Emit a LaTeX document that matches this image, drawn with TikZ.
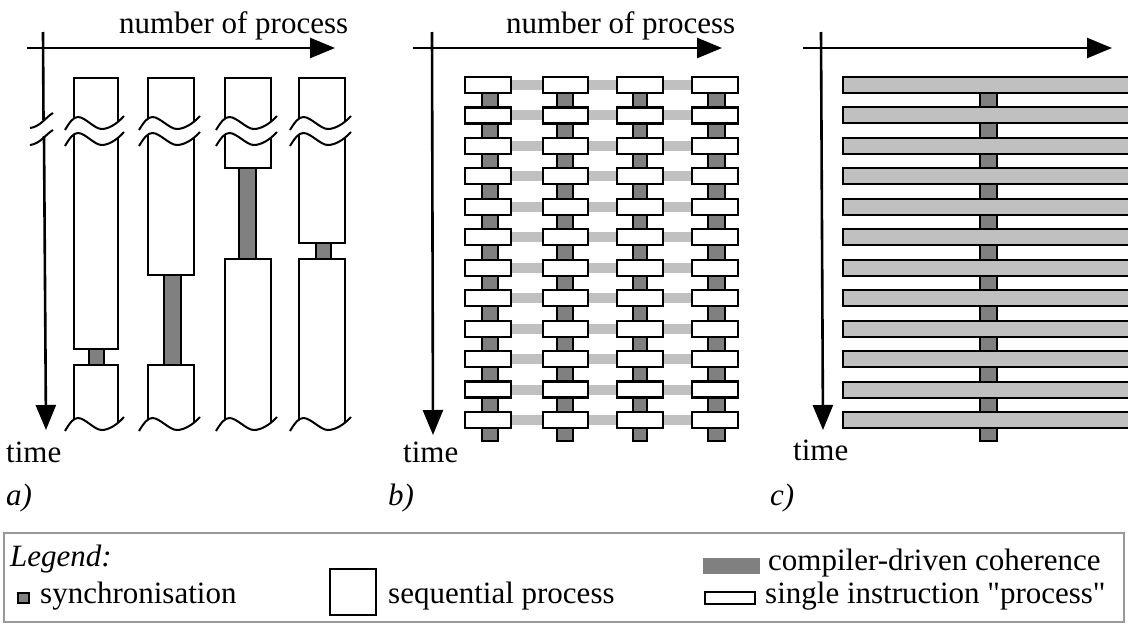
\documentclass[tikz,border=0pt]{standalone}
\usepackage{fontspec}
\setmainfont{Liberation Serif}
\newfontfamily\plainqfont{Liberation Serif}[Ligatures=TeXOff]
\usetikzlibrary{arrows.meta}
\definecolor{syncgray}{HTML}{808080}
\definecolor{lightgrey}{HTML}{C0C0C0}
\definecolor{framegrey}{HTML}{999999}
% wave from x=#1 to x=#2 around y=#3 (y grows downwards)
\newcommand\wavefw[3]{(#1,#3+7) .. controls ({(#1)+0.08*((#2)-(#1))},#3-1) and ({(#1)+0.14*((#2)-(#1))},#3-6) .. ({(#1)+0.22*((#2)-(#1))},#3-6) .. controls ({(#1)+0.34*((#2)-(#1))},#3-6) and ({(#1)+0.50*((#2)-(#1))},#3+6) .. ({(#1)+0.62*((#2)-(#1))},#3+6) .. controls ({(#1)+0.74*((#2)-(#1))},#3+6) and ({(#1)+0.88*((#2)-(#1))},#3+1) .. (#2,#3-7)}
\newcommand\waverev[3]{(#2,#3-7) .. controls ({(#1)+0.88*((#2)-(#1))},#3+1) and ({(#1)+0.74*((#2)-(#1))},#3+6) .. ({(#1)+0.62*((#2)-(#1))},#3+6) .. controls ({(#1)+0.50*((#2)-(#1))},#3+6) and ({(#1)+0.34*((#2)-(#1))},#3-6) .. ({(#1)+0.22*((#2)-(#1))},#3-6) .. controls ({(#1)+0.14*((#2)-(#1))},#3-6) and ({(#1)+0.08*((#2)-(#1))},#3-1) .. (#1,#3+7)}
\tikzset{
  axisarrow/.style={line width=2.6pt, -{Triangle[length=25pt,width=20pt]}},
  axisline/.style={line width=2.6pt},
  seqbox/.style={draw, fill=white, line width=2pt},
  syncbox/.style={draw, fill=syncgray, line width=2pt},
  sibox/.style={draw, fill=white, line width=2.2pt},
  cohlink/.style={fill=lightgrey},
  cbar/.style={draw, fill=lightgrey, line width=2pt},
  wavestyle/.style={line width=2pt},
  lbl/.style={font=\fontsize{31}{37}\selectfont, inner sep=0pt, anchor=base west},
  ilbl/.style={lbl, font=\fontsize{31}{37}\selectfont\itshape},
}
\begin{document}
\begin{tikzpicture}[x=1pt,y=-1pt]
\useasboundingbox (0,0) rectangle (1128,624);
\fill[white] (0,0) rectangle (1128,624);

% ================= panel a =================
\coordinate (ah0) at (27,48);  \coordinate (ah1) at (335,48);
\coordinate (av0) at (43,32);  \coordinate (av1) at (43.5,120);
\coordinate (av2) at (44,136); \coordinate (av3) at (46,430);
\draw[axisarrow] (ah0) -- (ah1);
\draw[axisline] (av0) -- (av1);
\draw[axisarrow] (av2) -- (av3);
\draw[wavestyle] (30,128) .. controls (40,127) and (46,117) .. (53,113);
\draw[wavestyle] (30,145) .. controls (40,144) and (46,134) .. (53,130);

\foreach \L/\R/\Ab/\sL/\sR/\Bt in {74/118/349/89/104/365, 148/194/275/164/181/365, 225/271/168/239/256/259, 299/345/243/316/331/259}{
  \draw[syncbox] (\sL,\Ab) rectangle (\sR,\Bt);
  \draw[seqbox] (\L,78) rectangle (\R,\Ab);
  \draw[seqbox] (\L,450) -- (\L,\Bt) -- (\R,\Bt) -- (\R,450);
  \fill[white] \wavefw{\L-9}{\R+6}{123} -- \waverev{\L-9}{\R+6}{139} -- cycle;
  \draw[wavestyle] \wavefw{\L-9}{\R+6}{123};
  \draw[wavestyle] \wavefw{\L-9}{\R+6}{139};
  \fill[white] \wavefw{\L-9}{\R+6}{424} -- (\R+6,455) -- (\L-9,455) -- cycle;
  \draw[wavestyle] \wavefw{\L-9}{\R+6}{424};
}
\node[lbl] (npa) at (119,33) {number of process};
\node[lbl] (ta) at (6,462) {time};
\node[ilbl] (la) at (6,505) {a)};

% ================= panel b =================
\coordinate (bh0) at (413,48); \coordinate (bh1) at (722,48);
\coordinate (bv0) at (432,32); \coordinate (bv1) at (433,435);
\draw[axisarrow] (bh0) -- (bh1);
\draw[axisarrow] (bv0) -- (bv1);
\foreach \i in {0,...,11}{
  \pgfmathsetmacro\yy{77+30.45*\i}
  \foreach \a/\b in {511/543, 588/617, 663/692}{
    \fill[cohlink] (\a,\yy+3) rectangle (\b,\yy+13);
  }
}
\foreach \sL/\sR in {482/498, 557/573, 633/647, 708/725}{
  \draw[syncbox] (\sL,85) rectangle (\sR,441);
}
\foreach \i in {0,...,11}{
  \pgfmathsetmacro\yy{77+30.45*\i}
  \foreach \L/\R in {465/511, 543/588, 617/663, 692/738}{
    \draw[sibox] (\L,\yy) rectangle (\R,\yy+16);
  }
}
\node[lbl] (npb) at (506,33) {number of process};
\node[lbl] (tb) at (403,462) {time};
\node[ilbl] (lb) at (388,505) {b)};

% ================= panel c =================
\coordinate (ch0) at (803,48); \coordinate (ch1) at (1112,48);
\coordinate (cv0) at (821,32); \coordinate (cv1) at (823,430);
\draw[axisarrow] (ch0) -- (ch1);
\draw[axisarrow] (cv0) -- (cv1);
\draw[syncbox] (980,85) rectangle (997,441);
\foreach \i in {0,...,11}{
  \pgfmathsetmacro\yy{77+30.45*\i}
  \draw[cbar] (843,\yy) rectangle (1140,\yy+16);
}
\node[lbl] (tc) at (793,460) {time};
\node[ilbl] (lc) at (770,505) {c)};

% ================= legend =================
\draw[framegrey, line width=2.5pt] (4,533) rectangle (1124,622);
\node[ilbl] (lg) at (10,566) {Legend:};
\draw[syncbox, line width=1.8pt] (18,593) rectangle (29,603);
\node[lbl] (lsync) at (40,603) {synchronisation};
\draw[seqbox] (330,569) rectangle (376,615);
\node[lbl] (lseq) at (388,603) {sequential process};
\fill[syncgray] (703,558) rectangle (760,574);
\node[lbl] (lcoh) at (768,570) {compiler-driven coherence};
\draw[sibox] (705,592) rectangle (755,604);
\node[lbl] (lsi) at (765,603) {single instruction {\plainqfont"}process{\plainqfont"}};
\end{tikzpicture}
\end{document}
